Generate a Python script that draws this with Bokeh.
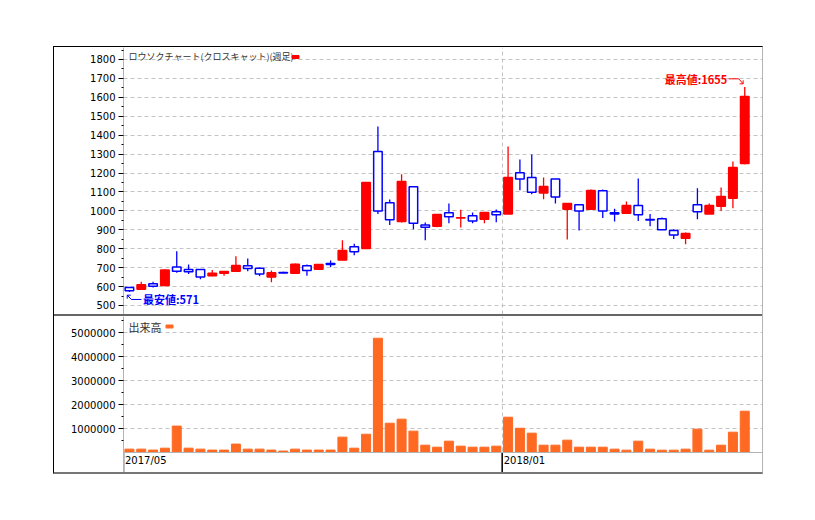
from bokeh.plotting import figure
from bokeh.layouts import column
from bokeh.models import FixedTicker, Span, Range1d, NumeralTickFormatter, Grid, Spacer
from bokeh.core.properties import value
from bokeh.embed import file_html
from bokeh.resources import INLINE

# ---------------- data (weekly candles, 2017/05 .. 2018/04) ----------------
opens = [595, 586, 615, 606, 704, 690, 690, 657, 671, 681, 710, 697, 650, 675, 671, 710,
         692, 722, 740, 810, 801, 1314, 1043, 944, 1127, 926, 919, 990, 962, 974, 956, 995,
         983, 1201, 1176, 1094, 1169, 1009, 1032, 1009, 1106, 990, 988, 1028, 954, 958, 896,
         856, 1032, 983, 1025, 1067, 1250]
highs = [597, 625, 625, 690, 787, 717, 690, 688, 682, 760, 748, 700, 685, 678, 722, 717,
         718, 738, 845, 826, 1152, 1446, 1060, 1194, 1127, 939, 981, 1039, 1006, 992, 992, 1007,
         1340, 1272, 1298, 1176, 1169, 1039, 1032, 1113, 1113, 1011, 1050, 1171, 984, 965, 903,
         886, 1120, 1039, 1124, 1261, 1655]
lows = [571, 583, 595, 602, 673, 667, 639, 655, 657, 678, 681, 655, 623, 670, 670, 657,
        692, 703, 738, 766, 800, 983, 925, 939, 903, 845, 914, 935, 912, 935, 935, 940,
        983, 1109, 1088, 1062, 1039, 849, 896, 1009, 962, 944, 988, 946, 919, 900, 851,
        824, 956, 983, 999, 1014, 1247]
closes = [578, 609, 602, 687, 681, 678, 650, 671, 680, 712, 696, 667, 673, 672, 718, 685,
          717, 716, 791, 784, 1150, 999, 953, 1155, 935, 914, 981, 969, 964, 947, 992, 979,
          1176, 1169, 1099, 1129, 1074, 1039, 999, 1108, 999, 983, 1028, 979, 952, 900, 873,
          880, 995, 1028, 1076, 1229, 1604]
volumes = [140000, 140000, 100000, 180000, 1100000, 180000, 140000, 100000, 100000, 350000,
           140000, 140000, 100000, 60000, 140000, 100000, 100000, 100000, 640000, 180000,
           760000, 4760000, 1220000, 1390000, 890000, 305000, 222000, 472000, 264000, 222000,
           222000, 264000, 1470000, 1010000, 806000, 305000, 305000, 514000, 222000, 222000,
           222000, 139000, 97000, 472000, 139000, 97000, 97000, 139000, 972000, 97000,
           305000, 847000, 1720000]

date_tick_index = [0, 32]
date_tick_labels = ["2017/05", "2018/01"]
price_ticks = list(range(500, 1801, 100))
price_minor_ticks = list(range(450, 1900, 100))
volume_ticks = [1000000, 2000000, 3000000, 4000000, 5000000]
volume_minor_ticks = [500000, 1500000, 2500000, 3500000, 4500000, 5500000]

price_series_name = "ロウソクチャート(クロスキャット)(週足)"
volume_series_name = "出来高"
low_label_prefix = "最安値:"
high_label_prefix = "最高値:"

# ---------------- styling ----------------
RED = "#ff0000"
BLUE = "#0000ff"
ORANGE = "#ff6922"
GRID = "#c4c4c4"
AXIS = "#b4b4b4"
TICK_FONT = "DejaVu Sans"
JP_FONT = "Noto Sans CJK JP"

W = 708
LEFT = 69
H_PRICE = 267
H_VOL = 156
FRAME_W = W - LEFT

n = len(opens)
idx = list(range(n))
x_range = (-0.5, n + 0.5)
price_range = (452.4, 1863.4)
vol_range = (-833333, 5666667)

px_x = FRAME_W / (x_range[1] - x_range[0])
px_y = H_PRICE / (price_range[1] - price_range[0])


def style_y_axis(fig, ticks, minor):
    ax = fig.yaxis[0]
    ax.ticker = FixedTicker(ticks=ticks, minor_ticks=minor)
    ax.axis_line_color = AXIS
    ax.axis_line_width = 1
    ax.major_tick_line_color = "#000000"
    ax.minor_tick_line_color = "#000000"
    ax.major_tick_out = 5
    ax.major_tick_in = 0
    ax.minor_tick_out = 2
    ax.minor_tick_in = 0
    ax.major_label_standoff = 3
    ax.major_label_text_font = TICK_FONT
    ax.major_label_text_font_size = "10px"
    ax.major_label_text_color = "#000000"
    fig.ygrid.ticker = FixedTicker(ticks=ticks)
    fig.ygrid.grid_line_color = GRID
    fig.ygrid.grid_line_dash = "4 3"
    fig.ygrid.grid_line_width = 1
    for g in list(fig.xgrid):
        g.visible = False
    g = Grid(dimension=0, ticker=FixedTicker(ticks=[i - 0.5 for i in date_tick_index]),
             grid_line_color=GRID, grid_line_dash="4 3", grid_line_width=1)
    fig.add_layout(g)


def common(fig):
    fig.outline_line_color = None
    fig.background_fill_color = "#ffffff"
    fig.border_fill_color = "#ffffff"


# ---------------- price figure ----------------
p = figure(width=W, height=H_PRICE, x_range=Range1d(*x_range), y_range=Range1d(*price_range),
           x_axis_location=None, output_backend="svg", toolbar_location=None,
           min_border_left=LEFT, min_border_right=0, min_border_top=0, min_border_bottom=0)
common(p)
style_y_axis(p, price_ticks, price_minor_ticks)

up = [c >= o for o, c in zip(opens, closes)]
line_cols = [RED if u else BLUE for u in up]
fill_cols = [RED if u else "#ffffff" for u in up]
tops = [max(o, c) for o, c in zip(opens, closes)]
bots = [min(o, c) for o, c in zip(opens, closes)]

p.segment(x0=idx, y0=lows, x1=idx, y1=highs, line_color=line_cols, line_width=1.3)
p.vbar(x=idx, top=tops, bottom=bots, width=0.72, fill_color=fill_cols,
       line_color=line_cols, line_width=1.5)

# legend-like label at top-left
p.text(x=[x_range[0]], y=[price_range[1]], text=[price_series_name], x_offset=5, y_offset=9,
       text_font=value(JP_FONT), text_font_size="9px", text_color="#333333",
       text_baseline="middle", text_align="left")
p.rect(x=[x_range[0] + 172 / px_x], y=[price_range[1] - 9.5 / px_y], width=7, height=3,
       width_units="screen", height_units="screen", color=RED)

# min / max annotations
imin = min(idx, key=lambda i: lows[i])
imax = max(idx, key=lambda i: highs[i])
lo = lows[imin]
hi = highs[imax]


def pt(x0, y0, dx, dy):
    return x0 + dx / px_x, y0 - dy / px_y


# low arrow
tip = (-2.2, 3.1)
pts = [tip, (2, 7.4), (12, 7.4)]
xs = [pt(imin, lo, a, b)[0] for a, b in pts]
ys = [pt(imin, lo, a, b)[1] for a, b in pts]
p.line(xs, ys, line_color=BLUE, line_width=1)
hx = [pt(imin, lo, tip[0] + 3.5, tip[1])[0], pt(imin, lo, *tip)[0], pt(imin, lo, tip[0], tip[1] + 3.5)[0]]
hy = [pt(imin, lo, tip[0] + 3.5, tip[1])[1], pt(imin, lo, *tip)[1], pt(imin, lo, tip[0], tip[1] + 3.5)[1]]
p.line(hx, hy, line_color=BLUE, line_width=1)
p.text(x=[imin], y=[lo], text=[f"{low_label_prefix}{lo}"], x_offset=13.5, y_offset=7.4,
       text_font=value(JP_FONT), text_font_size="11px", text_font_style="bold",
       text_color=BLUE, text_baseline="middle", text_align="left")

# high arrow
tip = (-1.6, -3.1)
pts = [tip, (-6, -8.1), (-16, -8.1)]
xs = [pt(imax, hi, a, b)[0] for a, b in pts]
ys = [pt(imax, hi, a, b)[1] for a, b in pts]
p.line(xs, ys, line_color=RED, line_width=1)
hx = [pt(imax, hi, tip[0] - 3.5, tip[1])[0], pt(imax, hi, *tip)[0], pt(imax, hi, tip[0], tip[1] - 3.5)[0]]
hy = [pt(imax, hi, tip[0] - 3.5, tip[1])[1], pt(imax, hi, *tip)[1], pt(imax, hi, tip[0], tip[1] - 3.5)[1]]
p.line(hx, hy, line_color=RED, line_width=1)
p.text(x=[imax], y=[hi], text=[f"{high_label_prefix}{hi}"], x_offset=-17.5, y_offset=-8.1,
       text_font=value(JP_FONT), text_font_size="11px", text_font_style="bold",
       text_color=RED, text_baseline="middle", text_align="right")

# ---------------- volume figure ----------------
v = figure(width=W, height=H_VOL, x_range=p.x_range, y_range=Range1d(*vol_range),
           x_axis_location=None, output_backend="svg", toolbar_location=None,
           min_border_left=LEFT, min_border_right=0, min_border_top=0, min_border_bottom=0)
common(v)
style_y_axis(v, volume_ticks, volume_minor_ticks)
v.yaxis[0].formatter = NumeralTickFormatter(format="0")

v.vbar(x=idx, top=volumes, bottom=0, width=0.76, color=ORANGE)
v.add_layout(Span(location=0, dimension="width", line_color=AXIS, line_width=1))

# date axis (ticks below the zero line)
tick_x = [i - 0.5 for i in date_tick_index]
v.segment(x0=tick_x, y0=[0] * len(tick_x), x1=tick_x, y1=[vol_range[0]] * len(tick_x),
          line_color="#000000", line_width=1.5)
v.text(x=tick_x, y=[0] * len(tick_x), text=date_tick_labels, x_offset=1.5, y_offset=2,
       text_font=value(TICK_FONT), text_font_size="10px", text_color="#000000",
       text_baseline="top", text_align="left")

v.text(x=[x_range[0]], y=[vol_range[1]], text=[volume_series_name], x_offset=5, y_offset=10,
       text_font=value(JP_FONT), text_font_size="11px", text_color="#333333",
       text_baseline="middle", text_align="left")
v.rect(x=[x_range[0] + 46 / px_x], y=[vol_range[1] - 10 * (vol_range[1] - vol_range[0]) / H_VOL],
       width=7, height=3, width_units="screen", height_units="screen", color=ORANGE)

sep = Spacer(width=W, height=2, styles={"background-color": "#666666"})

layout = column(p, sep, v, margin=(46, 0, 0, 53), spacing=0,
                styles={"border-top": "1px solid #000000", "border-left": "1px solid #000000",
                        "border-right": "1px solid #b4b4b4", "border-bottom": "2px solid #777777"})

open("out.html", "w").write(file_html(layout, INLINE))
